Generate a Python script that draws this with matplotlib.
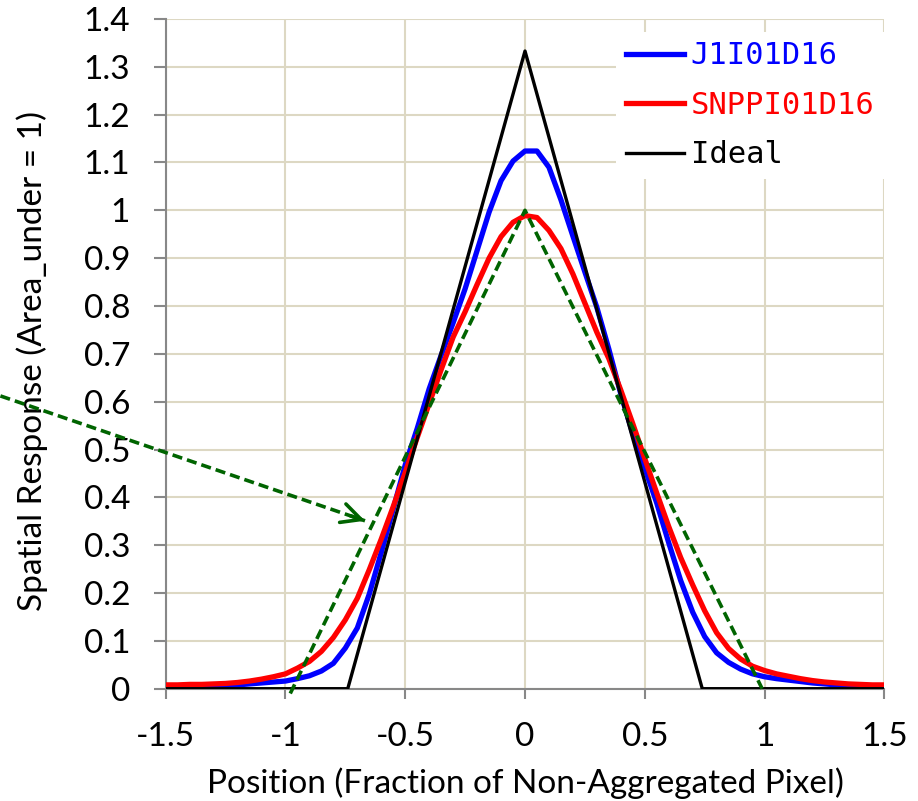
import numpy as np
from matplotlib import pyplot as plt

# positions (fraction of non-aggregated pixel), step 0.05
pos = np.round(np.arange(-1.5, 1.5001, 0.05), 2)

j1 = [0.004, 0.004, 0.005, 0.005, 0.006, 0.007, 0.008, 0.010, 0.012, 0.014,
      0.016, 0.021, 0.027, 0.037, 0.053, 0.085, 0.127, 0.198, 0.285, 0.376,
      0.468, 0.544, 0.627, 0.697, 0.765, 0.836, 0.916, 0.996, 1.062, 1.103,
      1.124, 1.124, 1.090, 1.022, 0.946, 0.871, 0.797, 0.710, 0.616, 0.533,
      0.461, 0.388, 0.305, 0.226, 0.160, 0.109, 0.075, 0.055, 0.041, 0.031,
      0.025, 0.021, 0.018, 0.015, 0.012, 0.010, 0.008, 0.007, 0.006, 0.005,
      0.005]

snpp = [0.008, 0.008, 0.009, 0.009, 0.010, 0.011, 0.013, 0.016, 0.020, 0.025,
        0.031, 0.043, 0.057, 0.078, 0.107, 0.144, 0.189, 0.249, 0.313, 0.381,
        0.452, 0.525, 0.596, 0.667, 0.735, 0.788, 0.845, 0.900, 0.945, 0.975,
        0.989, 0.985, 0.958, 0.920, 0.867, 0.806, 0.745, 0.690, 0.624, 0.554,
        0.481, 0.409, 0.339, 0.274, 0.217, 0.163, 0.117, 0.084, 0.062, 0.047,
        0.038, 0.031, 0.026, 0.021, 0.017, 0.014, 0.012, 0.010, 0.009, 0.008,
        0.008]

ideal_x = [-1.5, -0.74, 0.0, 0.74, 1.5]
ideal_y = [0.0, 0.0, 1.333, 0.0, 0.0]

# hand-drawn dashed triangle and arrow
tri_x = [-0.98, 0.0, 0.99]
tri_y = [-0.01, 1.0, 0.0]
arrow_from = (-2.19, 0.612)
arrow_to = (-0.668, 0.351)

green = '#006400'
font = 'Lato'
mono = 'DejaVu Sans Mono'
dash = (0, (2.8, 1.4))

fig = plt.figure(figsize=(9.18, 8.01), dpi=100)
ax = fig.add_axes([0.1805, 0.1402, 0.7828, 0.8361])

l1, = ax.plot(pos, j1, color='#0000ff', lw=3.8, label='J1I01D16', zorder=3)
l2, = ax.plot(pos, snpp, color='#ff0000', lw=3.8, label='SNPPI01D16', zorder=4)
l3, = ax.plot(ideal_x, ideal_y, color='black', lw=2.4, label='Ideal', zorder=5)
ax.plot(tri_x, tri_y, color=green, lw=2.6, ls=dash, zorder=6, clip_on=False)

# dashed arrow shaft + solid open head
ax.plot([arrow_from[0], arrow_to[0]], [arrow_from[1], arrow_to[1]],
        color=green, lw=2.6, ls=dash, clip_on=False, zorder=6)
head_start = (arrow_to[0] - 0.04 * (arrow_to[0] - arrow_from[0]),
              arrow_to[1] - 0.04 * (arrow_to[1] - arrow_from[1]))
ax.annotate('', xy=arrow_to, xytext=head_start,
            arrowprops=dict(arrowstyle='->,head_length=0.7,head_width=0.35',
                            color=green, lw=2.6, mutation_scale=20,
                            shrinkA=0, shrinkB=0),
            annotation_clip=False, zorder=6)

ax.set_xlim(-1.5, 1.5)
ax.set_ylim(0, 1.4)
ax.set_xticks(np.arange(-1.5, 1.51, 0.5))
ax.set_yticks(np.arange(0, 1.41, 0.1))
ax.set_xticklabels(['-1.5', '-1', '-0.5', '0', '0.5', '1', '1.5'])
ax.set_yticklabels(['0', '0.1', '0.2', '0.3', '0.4', '0.5', '0.6', '0.7',
                    '0.8', '0.9', '1', '1.1', '1.2', '1.3', '1.4'])

ax.grid(True, color='#ddd8c3', lw=1.5, zorder=0)
ax.set_axisbelow(True)
for s in ['top', 'right']:
    ax.spines[s].set_visible(False)
for s in ['left', 'bottom']:
    ax.spines[s].set_color('#888888')
    ax.spines[s].set_linewidth(1.5)

ax.tick_params(axis='y', direction='out', length=8.6, width=1.5,
               color='#888888', pad=17)
ax.tick_params(axis='x', direction='out', length=7.2, width=1.5,
               color='#888888', pad=17)
for lab in ax.get_xticklabels() + ax.get_yticklabels():
    lab.set_family(font)
    lab.set_fontsize(24)

ax.set_xlabel('Position (Fraction of Non-Aggregated Pixel)', family=font,
              fontsize=24)
ax.set_ylabel('Spatial Response (Area_under = 1)', family=font, fontsize=24)
ax.xaxis.set_label_coords(0.5, -0.118)
ax.yaxis.set_label_coords(-0.1638, 0.4886)

leg = ax.legend(handles=[l1, l2, l3], loc='upper right',
                bbox_to_anchor=(884 / 918, 1 - 32 / 801),
                bbox_transform=fig.transFigure, borderaxespad=0,
                prop={'family': mono, 'size': 22}, handlelength=1.9,
                handletextpad=0.23, labelspacing=0.67, borderpad=0.31,
                frameon=True, fancybox=False)
leg.get_frame().set_facecolor('white')
leg.get_frame().set_edgecolor('none')
leg.get_frame().set_alpha(1)
for txt, c in zip(leg.get_texts(), ['#0000ff', '#ff0000', 'black']):
    txt.set_color(c)

fig.savefig('out.png', dpi=100)
